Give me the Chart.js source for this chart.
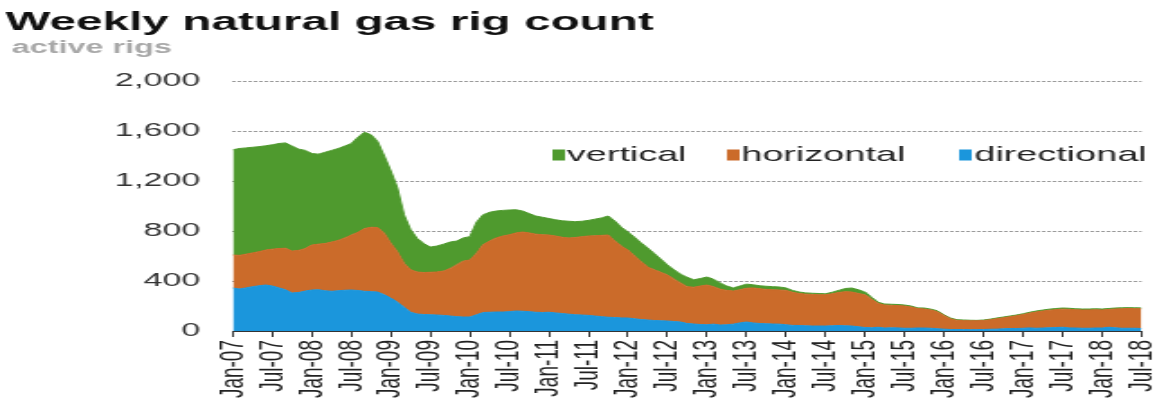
<!DOCTYPE html>
<html>
<head>
<meta charset="utf-8">
<script src="https://cdn.jsdelivr.net/npm/chart.js@4/dist/chart.umd.min.js"></script>
<style>
  html, body { margin: 0; padding: 0; background: #fff; overflow: hidden; }
  #wrap { width: 1157px; height: 402px; overflow: hidden; }
  #c { display: block; transform-origin: 0 0; }
</style>
</head>
<body>
<div id="wrap"><canvas id="c" width="643" height="402"></canvas></div>
<script>
// Monthly readings, Jan-07 (index 0) to Jul-18 (index 138)
const directional = [
  344,336,345,355,362,368,360,345,330,305,308,320,
  328,330,322,318,322,326,328,324,318,315,312,290,
  264,230,190,150,136,132,130,128,125,120,115,112,
  112,130,148,150,152,152,155,160,158,155,150,148,
  150,145,140,135,130,128,125,120,115,110,108,105,
  104,98,92,88,84,82,80,76,72,60,56,52,
  50,55,48,50,55,65,72,65,60,58,56,55,
  50,45,44,42,40,40,40,42,44,42,40,34,
  28,26,30,24,26,25,22,22,24,24,22,18,
  15,12,12,12,11,11,12,14,15,18,20,20,
  22,25,22,24,26,28,30,25,24,22,22,24,
  24,30,26,22,22,22,20
];
const horizontal = [
  264,269,270,270,273,280,295,315,332,335,337,340,
  360,365,378,394,403,419,440,466,502,515,516,490,
  436,402,350,340,336,336,340,344,355,380,415,448,
  456,490,542,570,593,608,615,625,634,630,625,622,
  618,615,610,609,618,627,635,642,650,658,612,575,
  544,502,463,424,406,388,368,339,313,295,294,308,
  318,300,287,275,265,265,270,280,278,275,274,273,
  275,265,256,253,252,250,250,256,264,273,272,266,
  262,229,190,184,179,178,178,170,156,152,146,137,
  110,86,73,71,71,71,72,76,83,88,94,102,
  110,118,130,136,140,143,145,148,146,146,146,146,
  144,142,150,156,158,157,158
];
const vertical = [
  842,855,850,845,840,834,835,840,843,840,810,785,
  732,720,730,733,735,735,732,760,770,740,687,620,
  580,512,390,320,268,232,202,208,215,212,190,185,
  187,250,240,230,215,205,198,185,168,155,145,140,
  132,130,132,134,127,123,125,133,140,152,160,150,
  144,150,150,152,130,105,80,75,70,75,60,60,
  64,60,50,35,25,30,33,25,24,25,25,24,
  20,15,12,10,10,10,8,12,17,25,32,30,
  22,15,10,8,9,9,8,8,5,8,7,7,
  5,6,5,5,4,3,4,5,6,6,6,6,
  6,7,8,8,9,9,9,9,8,8,8,8,
  8,8,8,8,7,7,7
];
const xTickLabels = [
  'Jan-07','Jul-07','Jan-08','Jul-08','Jan-09','Jul-09','Jan-10','Jul-10',
  'Jan-11','Jul-11','Jan-12','Jul-12','Jan-13','Jul-13','Jan-14','Jul-14',
  'Jan-15','Jul-15','Jan-16','Jul-16','Jan-17','Jul-17','Jan-18','Jul-18'
];
const yTicks = [0, 400, 800, 1200, 1600, 2000];
const seriesNames = ['vertical', 'horizontal', 'directional'];
const titleText = 'Weekly natural gas rig count';
const subtitleText = 'active rigs';

const SX = 1157 / 643;
document.getElementById('c').style.transform = 'scaleX(' + SX + ')';

const COLORS = { vertical: '#4f9a2e', horizontal: '#cb6b2a', directional: '#1b96dc' };
const FONT = "'Liberation Sans', Arial, sans-serif";
const monthIndex = directional.map((_, i) => i);

const decor = {
  id: 'decor',
  afterDraw(chart) {
    const ctx = chart.ctx;
    ctx.save();
    ctx.textBaseline = 'alphabetic';
    ctx.textAlign = 'left';
    ctx.fillStyle = '#111';
    ctx.font = 'bold 26.5px ' + FONT;
    ctx.fillText(titleText, 3, 30);
    ctx.fillStyle = '#a8a8a8';
    ctx.font = 'bold 18px ' + FONT;
    ctx.fillText(subtitleText, 6.5, 53);
    // legend
    const items = [
      { name: seriesNames[0], sq: 307, tx: 315 },
      { name: seriesNames[1], sq: 404, tx: 412 },
      { name: seriesNames[2], sq: 533, tx: 541.5 }
    ];
    ctx.font = '21px ' + FONT;
    ctx.textBaseline = 'middle';
    items.forEach(it => {
      ctx.fillStyle = COLORS[it.name];
      ctx.fillRect(it.sq, 149.5, 7, 11);
      ctx.fillStyle = '#222';
      ctx.fillText(it.name, it.tx, 155);
    });
    ctx.restore();
  }
};

new Chart(document.getElementById('c'), {
  type: 'line',
  data: {
    labels: monthIndex,
    datasets: [
      { label: 'directional', data: directional, backgroundColor: COLORS.directional, borderColor: COLORS.directional, borderWidth: 1, fill: 'origin', pointRadius: 0, tension: 0 },
      { label: 'horizontal', data: horizontal, backgroundColor: COLORS.horizontal, borderColor: COLORS.horizontal, borderWidth: 1, fill: '-1', pointRadius: 0, tension: 0 },
      { label: 'vertical', data: vertical, backgroundColor: COLORS.vertical, borderColor: COLORS.vertical, borderWidth: 1, fill: '-1', pointRadius: 0, tension: 0 }
    ]
  },
  options: {
    responsive: false,
    animation: false,
    devicePixelRatio: 1,
    layout: { padding: { top: 81, right: 8.6, bottom: 0, left: 0 } },
    plugins: { legend: { display: false }, tooltip: { enabled: false }, title: { display: false } },
    scales: {
      x: {
        type: 'linear',
        min: 0, max: 138,
        afterFit(s) { s.height = 71; s.paddingLeft = 0; s.paddingRight = 0; },
        afterBuildTicks(s) { s.ticks = xTickLabels.map((_, i) => ({ value: i * 6 })); },
        ticks: {
          autoSkip: false, minRotation: 90, maxRotation: 90, padding: 3,
          color: '#222', font: { family: FONT, size: 19 },
          callback: (v) => xTickLabels[Math.round(v / 6)]
        },
        grid: { drawOnChartArea: false, drawTicks: true, tickLength: 6, tickColor: '#333', tickWidth: 1 },
        border: { display: true, color: '#333', width: 1 }
      },
      y: {
        stacked: true,
        min: 0, max: 2000,
        afterFit(s) { s.width = 129.4; s.paddingTop = 0; s.paddingBottom = 0; },
        afterBuildTicks(s) { s.ticks = yTicks.map(v => ({ value: v })); },
        ticks: {
          padding: 18, color: '#333', font: { family: FONT, size: 19 },
          callback: (v) => v.toLocaleString('en-US')
        },
        grid: { drawTicks: false, color: (c) => c.tick && c.tick.value === 0 ? 'rgba(0,0,0,0)' : '#9a9a9a', lineWidth: 1 },
        border: { display: false, dash: [2, 1] }
      }
    }
  },
  plugins: [decor]
});
</script>
</body>
</html>
